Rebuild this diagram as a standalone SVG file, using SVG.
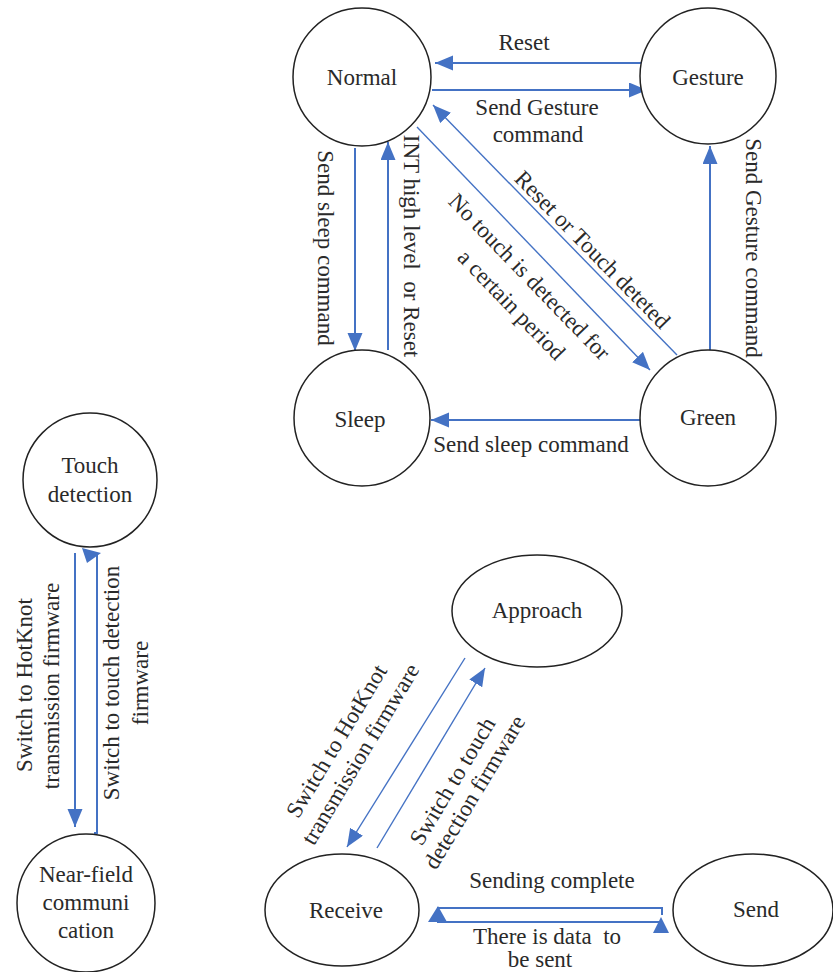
<svg xmlns="http://www.w3.org/2000/svg" width="833" height="972" viewBox="0 0 833 972">
<style>
text{font-family:"Liberation Serif","Times New Roman",serif;font-size:23px;fill:#2a2a2a;text-anchor:middle;white-space:pre}
.node{fill:#fff;stroke:#222;stroke-width:1.5}
.c{fill:none;stroke:#4472c4;stroke-width:2}
.t{fill:none;stroke:#4472c4;stroke-width:1.4}
.ah{fill:#4472c4;stroke:none}
</style>
<defs>
<marker id="arr" markerUnits="userSpaceOnUse" markerWidth="20" markerHeight="16" refX="18" refY="7.5" orient="auto">
<path d="M0,0 L18,7.5 L0,15 Z" fill="#4472c4"/>
</marker>
</defs>
<rect width="833" height="972" fill="#fff"/>
<g id="connectors">
<line class="c" x1="642" y1="63" x2="435" y2="63" marker-end="url(#arr)"/>
<line class="c" x1="432" y1="90" x2="647" y2="90" marker-end="url(#arr)"/>
<line class="c" x1="355" y1="148" x2="355" y2="351" marker-end="url(#arr)"/>
<line class="c" x1="388" y1="350" x2="388" y2="142" marker-end="url(#arr)"/>
<line class="c" x1="710" y1="350" x2="710" y2="146" marker-end="url(#arr)"/>
<line class="c" x1="642" y1="420" x2="431" y2="420" marker-end="url(#arr)"/>
<line class="t" x1="677" y1="355" x2="433" y2="105" marker-end="url(#arr)"/>
<line class="t" x1="417" y1="127" x2="650" y2="370" marker-end="url(#arr)"/>
<line class="c" x1="75" y1="553" x2="75" y2="827" marker-end="url(#arr)"/>
<path class="c" d="M94,833 L97,833 L97,555"/>
<polygon class="ah" points="82,548 101,553 87,563"/>
<line class="t" x1="465" y1="658" x2="347" y2="847" marker-end="url(#arr)"/>
<line class="t" x1="377" y1="848" x2="485" y2="668" marker-end="url(#arr)"/>
<path class="c" d="M662,915 L662,908 L437,908"/>
<polygon class="ah" points="428,922 438,906 447,922"/>
<line class="c" x1="437" y1="922" x2="660" y2="922"/>
<polygon class="ah" points="653,933 661,917 669,933"/>
</g>
<g id="labels">
<text x="524" y="50">Reset</text>
<text x="537" y="115">Send Gesture</text>
<text x="538" y="142">command</text>
<text transform="translate(318,248) rotate(90)">Send sleep command</text>
<text transform="translate(404,246) rotate(90)">INT high level  or Reset</text>
<text transform="translate(746,248) rotate(90)">Send Gesture command</text>
<text transform="translate(587,255) rotate(45.5)">Reset or Touch deteted</text>
<text transform="translate(524,282) rotate(46)">No touch is detected for</text>
<text transform="translate(506,310) rotate(46)">a certain period</text>
<text x="531" y="452">Send sleep command</text>
<text transform="translate(32,685) rotate(-90)">Switch to HotKnot</text>
<text transform="translate(59,686) rotate(-90)">transmission firmware</text>
<text transform="translate(119,683) rotate(-90)">Switch to touch detection</text>
<text transform="translate(148,683) rotate(-90)">firmware</text>
<text transform="translate(343,745) rotate(-59)">Switch to HotKnot</text>
<text transform="translate(367,758) rotate(-59)">transmission firmware</text>
<text transform="translate(459,785) rotate(-59)">Switch to touch</text>
<text transform="translate(481,796) rotate(-59)">detection firmware</text>
<text x="552" y="888">Sending complete</text>
<text x="547" y="944">There is data  to</text>
<text x="540" y="967">be sent</text>
</g>
<g id="normal"><circle class="node" cx="362" cy="77" r="69"/><text x="362" y="85">Normal</text></g>
<g id="gesture"><circle class="node" cx="708" cy="76" r="68"/><text x="708" y="85">Gesture</text></g>
<g id="sleep"><circle class="node" cx="362" cy="418" r="68"/><text x="360" y="427">Sleep</text></g>
<g id="green"><circle class="node" cx="708" cy="418" r="68"/><text x="708" y="425">Green</text></g>
<g id="touch"><circle class="node" cx="90" cy="480" r="67"/><text x="90" y="473">Touch</text><text x="90" y="502">detection</text></g>
<g id="nfc"><circle class="node" cx="86" cy="903" r="69"/><text x="86" y="882">Near-field</text><text x="86" y="910">communi</text><text x="86" y="938">cation</text></g>
<g id="approach"><ellipse class="node" cx="537" cy="611" rx="85" ry="56"/><text x="537" y="618">Approach</text></g>
<g id="receive"><ellipse class="node" cx="342" cy="910" rx="77" ry="56"/><text x="346" y="918">Receive</text></g>
<g id="send"><ellipse class="node" cx="753" cy="910" rx="80" ry="56"/><text x="756" y="917">Send</text></g>
</svg>
